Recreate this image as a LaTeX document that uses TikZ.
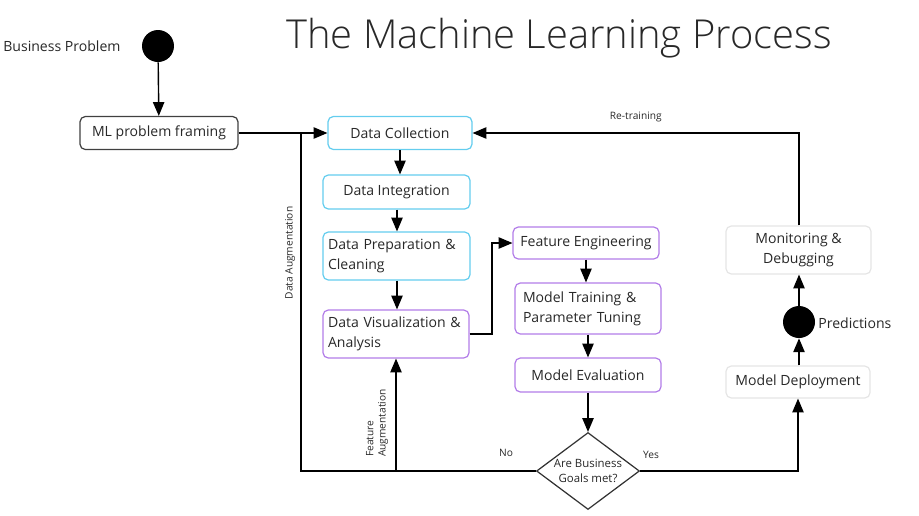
\documentclass[tikz,border=0pt]{standalone}
\usepackage{fontspec}
\setmainfont{Open Sans}
\newfontfamily\titlefont{Open Sans Light}
\usepackage{tikz}
\usetikzlibrary{arrows,shapes.geometric}
\definecolor{textgray}{RGB}{40,40,40}
\definecolor{prepcyan}{RGB}{100,205,238}
\definecolor{modelpurple}{RGB}{178,125,232}
\tikzset{
  box/.style={draw, rounded corners=3pt, line width=0.7pt, text=textgray,
    font=\fontsize{8}{11.4}\selectfont, inner sep=0pt},
  prepbox/.style={box, draw=prepcyan},
  modelbox/.style={box, draw=modelpurple},
  opsbox/.style={box, draw=black!10},
  twoline/.style={align=left, inner xsep=0.1cm},
  dot/.style={circle, fill=black, minimum size=0.64cm, inner sep=0pt},
  flow/.style={-triangle 45, line width=0.8pt},
  smalllabel/.style={font=\fontsize{5.8}{7}\selectfont, text=textgray, inner sep=1pt}
}
\begin{document}
\begin{tikzpicture}[x=0.02cm, y=-0.02cm]
\useasboundingbox (0,0) rectangle (919,515);

\node (title) at (559,38) {\titlefont\fontsize{22.7}{26}\selectfont\color{textgray}The Machine Learning Process};

\node [dot] (start) at (158,46) {};
\node [anchor=west, inner sep=0pt, text=textgray, font=\fontsize{8}{10}\selectfont] (bp) at (3,46) {Business Problem};
\node [box, draw=black!75, minimum width=3.16cm, minimum height=0.66cm] (mlf) at (159,133) {ML problem framing};

\node [prepbox, minimum width=2.88cm, minimum height=0.66cm] (dc) at (400,133) {Data Collection};
\node [prepbox, minimum width=2.94cm, minimum height=0.68cm] (di) at (396.5,192) {Data Integration};
\node [prepbox, twoline, text width=2.74cm, minimum height=0.96cm] (dp) at (396.5,256) {Data Preparation \&\\Cleaning};
\node [modelbox, twoline, text width=2.72cm, minimum height=0.96cm] (dv) at (396,334) {Data Visualization \&\\Analysis};

\node [modelbox, minimum width=2.92cm, minimum height=0.64cm] (fe) at (586,243) {Feature Engineering};
\node [modelbox, twoline, inner xsep=0.16cm, text width=2.60cm, minimum height=1.02cm] (mt) at (588,308.5) {Model Training \&\\Parameter Tuning};
\node [modelbox, minimum width=2.92cm, minimum height=0.68cm] (me) at (588,375) {Model Evaluation};
\node [diamond, aspect=1.4, draw=black!80, line width=0.7pt, minimum width=2.06cm, minimum height=1.54cm, inner sep=0pt,
  align=center, text=textgray, font=\fontsize{6.5}{8.5}\selectfont] (goal) at (588,471) {Are Business\\Goals met?};

\node [opsbox, minimum width=2.88cm, minimum height=0.64cm] (md) at (798,382) {Model Deployment};
\node [dot] (pred) at (799,322) {};
\node [anchor=west, inner sep=0pt, text=textgray, font=\fontsize{8}{10}\selectfont] (predlabel) at (818,323) {Predictions};
\node [opsbox, align=center, minimum width=2.9cm, minimum height=0.96cm] (mon) at (798.5,250) {Monitoring \&\\Debugging};

\coordinate (join) at (301,133);
\coordinate (noleft) at (301,471);
\coordinate (fa) at (396,471);
\coordinate (fturn) at (492,334);

\draw [flow] (start) -- (mlf);
\draw [flow] (mlf) -- (dc);
\draw [flow] (dc.south -| 400,0) -- (di.north -| 400,0);
\draw [flow] (di.south -| 397,0) -- (dp.north -| 397,0);
\draw [flow] (dp.south -| 397,0) -- (dv.north -| 397,0);
\draw [flow] (dv.east) -- (fturn) |- (fe.west);
\draw [flow] (fe.south -| 586,0) -- (mt.north -| 586,0);
\draw [flow] (mt) -- (me);
\draw [flow] (me) -- (goal);
\draw [line width=0.8pt] (goal.west) -- (noleft) -- (join);
\draw [flow] (fa) -- (dv.south);
\draw [flow] (goal.east) -| (md.south);
\draw [flow] (md.north -| pred) -- (pred);
\draw [flow] (pred) -- (mon.south -| pred);
\draw [flow] (mon.north -| pred) |- (dc.east) node [smalllabel, pos=0.75, above=5pt] {Re-training};

\node [smalllabel, rotate=90] (dalabel) at (290,253) {Data Augmentation};
\node [smalllabel, rotate=90, align=left] (falabel) at (377,423) {Feature\\Augmentation};
\node [smalllabel] (nolabel) at (506,453) {No};
\node [smalllabel] (yeslabel) at (651,455) {Yes};
\end{tikzpicture}
\end{document}
